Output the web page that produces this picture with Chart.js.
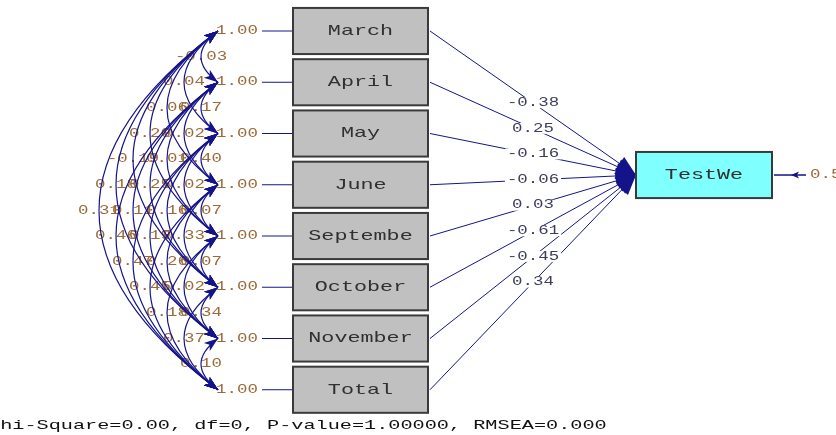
<!DOCTYPE html>
<html>
<head>
<meta charset="utf-8">
<script src="https://cdn.jsdelivr.net/npm/chart.js@4"></script>
<style>
  html, body { margin: 0; padding: 0; background: #fff; }
  #wrap { width: 836px; height: 435px; }
</style>
</head>
<body>
<div id="wrap"><canvas id="graph1" width="836" height="435"></canvas></div>
<script>
// Observed variables (LISREL path diagram)
const varNames = ["March", "April", "May", "June", "Septembe", "October", "November", "Total"];
const varVariances = [1.00, 1.00, 1.00, 1.00, 1.00, 1.00, 1.00, 1.00];
const pathCoefs = [-0.38, 0.25, -0.16, -0.06, 0.03, -0.61, -0.45, 0.34];
const targetName = "TestWe";
const errorVarLabel = "0.55";
const fitText = "Chi-Square=0.00, df=0, P-value=1.00000, RMSEA=0.000";

// correlations between observed variables: [row i, row j, value]
const correlations = [
  [0, 1, -0.03], [0, 2, 0.04], [0, 3, 0.06], [0, 4, 0.20], [0, 5, -0.19], [0, 6, 0.18], [0, 7, 0.31],
  [1, 2, 0.17], [1, 3, 0.02], [1, 4, 0.01], [1, 5, 0.25], [1, 6, 0.11], [1, 7, 0.46],
  [2, 3, 0.40], [2, 4, 0.02], [2, 5, 0.16], [2, 6, 0.19], [2, 7, 0.47],
  [3, 4, 0.07], [3, 5, 0.33], [3, 6, 0.26], [3, 7, 0.45],
  [4, 5, 0.07], [4, 6, 0.02], [4, 7, 0.18],
  [5, 6, 0.34], [5, 7, 0.37],
  [6, 7, 0.10],
];

// Colors
const navy = "#14148a";
const labelColor = "#9a6a3a";
const pathLabelColor = "#3c3c5c";
const boxGray = "#c0c0c0";
const boxCyan = "#80ffff";
const borderColor = "#3a3a3a";

const fmt = (v) => v.toFixed(2);
const FONT = '"Liberation Mono", "DejaVu Sans Mono", monospace';

function stretchedText(ctx, s, x, y, size, color, sx, align = "center", bg = null) {
  ctx.save();
  ctx.font = `${size}px ${FONT}`;
  const w = ctx.measureText(s).width * sx;
  if (bg) {
    let left = align === "center" ? x - w / 2 : align === "right" ? x - w : x;
    ctx.fillStyle = bg;
    ctx.fillRect(left - 2, y - size * 0.45, w + 4, size * 0.9);
  }
  ctx.translate(x, y);
  ctx.scale(sx, 1);
  ctx.fillStyle = color;
  ctx.textAlign = align;
  ctx.textBaseline = "middle";
  ctx.fillText(s, 0, 0);
  ctx.restore();
}

function arrowHead(ctx, tipX, tipY, fromX, fromY, len, half, notch = 0.75) {
  const a = Math.atan2(tipY - fromY, tipX - fromX);
  ctx.save();
  ctx.translate(tipX, tipY);
  ctx.rotate(a);
  ctx.beginPath();
  ctx.moveTo(0, 0);
  ctx.lineTo(-len, -half);
  ctx.lineTo(-len * notch, 0);
  ctx.lineTo(-len, half);
  ctx.closePath();
  ctx.fillStyle = navy;
  ctx.fill();
  ctx.restore();
}

const diagramPlugin = {
  id: "pathDiagram",
  afterDatasetsDraw(chart) {
    const ctx = chart.ctx;
    const xs = chart.scales.x;
    const ys = chart.scales.y;
    const X = (v) => xs.getPixelForValue(v);
    const Y = (r) => ys.getPixelForValue(r);

    const tipX = 218;
    const boxL = 293, boxR = 428, boxHalf = 0.45;
    const tL = 636, tR = 772, tRow = 2.81;

    // correlation labels (drawn under the arcs)
    correlations.forEach(([i, j, v]) => {
      const d = j - i;
      stretchedText(ctx, fmt(v), X(tipX - 17 * d), Y((i + j) / 2), 12, labelColor, 1.45);
    });

    // correlation arcs
    ctx.save();
    ctx.strokeStyle = navy;
    ctx.lineWidth = 1.2;
    correlations.forEach(([i, j]) => {
      const d = j - i;
      const cx = X(tipX - 34 * d), cy = Y((i + j) / 2);
      const x0 = X(tipX), y0 = Y(i), y1 = Y(j);
      ctx.beginPath();
      ctx.moveTo(x0, y0);
      ctx.quadraticCurveTo(cx, cy, x0, y1);
      ctx.stroke();
      arrowHead(ctx, x0, y0, cx, cy, 14, 5);
      arrowHead(ctx, x0, y1, cx, cy, 14, 5);
    });
    ctx.restore();

    // variances and observed-variable boxes
    varNames.forEach((name, i) => {
      const y = Y(i);
      stretchedText(ctx, fmt(varVariances[i]), X(237), y, 12, labelColor, 1.45);
      ctx.strokeStyle = navy;
      ctx.lineWidth = 1;
      ctx.beginPath();
      ctx.moveTo(X(262), y);
      ctx.lineTo(X(boxL), y);
      ctx.stroke();

      const top = Y(i - boxHalf), bot = Y(i + boxHalf);
      ctx.fillStyle = boxGray;
      ctx.fillRect(X(boxL), top, X(boxR) - X(boxL), bot - top);
      ctx.strokeStyle = borderColor;
      ctx.lineWidth = 2;
      ctx.strokeRect(X(boxL), top, X(boxR) - X(boxL), bot - top);
      stretchedText(ctx, name, X((boxL + boxR) / 2), y, 15, "#303030", 1.45);
    });

    // paths to target
    const ty = Y(tRow);
    ctx.strokeStyle = navy;
    ctx.lineWidth = 1;
    pathCoefs.forEach((c, i) => {
      ctx.beginPath();
      ctx.moveTo(X(boxR + 2), Y(i));
      ctx.lineTo(X(tL), ty);
      ctx.stroke();
    });
    pathCoefs.forEach((c, i) => {
      stretchedText(ctx, fmt(c), X(533), Y(1.4 + 0.5 * i), 12, pathLabelColor, 1.45, "center", "#ffffff");
    });
    pathCoefs.forEach((c, i) => {
      arrowHead(ctx, X(tL), ty, X(boxR + 2), Y(i), 20, 8, 1);
    });

    // target box
    const tTop = Y(tRow - boxHalf), tBot = Y(tRow + boxHalf);
    ctx.fillStyle = boxCyan;
    ctx.fillRect(X(tL), tTop, X(tR) - X(tL), tBot - tTop);
    ctx.strokeStyle = borderColor;
    ctx.lineWidth = 2;
    ctx.strokeRect(X(tL), tTop, X(tR) - X(tL), tBot - tTop);
    stretchedText(ctx, targetName, X((tL + tR) / 2), ty, 15, "#303030", 1.45);

    // error term
    ctx.strokeStyle = navy;
    ctx.lineWidth = 1.5;
    ctx.beginPath();
    ctx.moveTo(X(tR + 2), ty);
    ctx.lineTo(X(806), ty);
    ctx.stroke();
    arrowHead(ctx, X(791), ty, X(806), ty, 8, 3.5);
    stretchedText(ctx, errorVarLabel, X(810), ty, 12, labelColor, 1.45, "left");

    // fit statistics
    stretchedText(ctx, fitText, X(-12), Y(7.7), 13, "#111111", 1.555, "left");
  },
};

new Chart(document.getElementById("graph1"), {
  type: "scatter",
  data: { datasets: [{ data: [], pointRadius: 0 }] },
  options: {
    responsive: false,
    animation: false,
    layout: { padding: 0 },
    plugins: { legend: { display: false }, tooltip: { enabled: false } },
    scales: {
      x: { type: "linear", min: 0, max: 836, display: false },
      y: { type: "linear", min: -0.605, max: 7.883, reverse: true, display: false },
    },
  },
  plugins: [diagramPlugin],
});
</script>
</body>
</html>
